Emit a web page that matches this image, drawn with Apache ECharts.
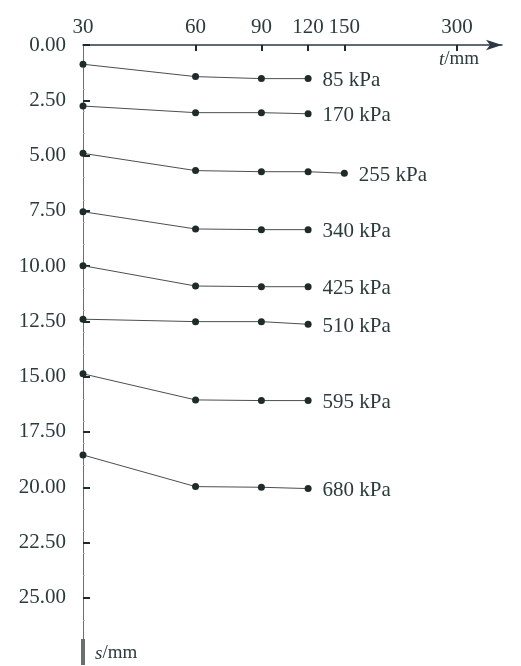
<!DOCTYPE html>
<html>
<head>
<meta charset="utf-8">
<script src="https://cdn.jsdelivr.net/npm/echarts@6/dist/echarts.min.js"></script>
<style>
  html, body { margin: 0; padding: 0; background: #ffffff; }
  #chart { width: 521px; height: 666px; }
</style>
</head>
<body>
<div id="chart"></div>
<script>
// Time steps t (mm) on a log scale, settlement s (mm) for each load stage
const tValues = [30, 60, 90, 120];
const tValuesLong = [30, 60, 90, 120, 150];
const loads = ['85 kPa', '170 kPa', '255 kPa', '340 kPa', '425 kPa', '510 kPa', '595 kPa', '680 kPa'];
const s85  = [0.87, 1.43, 1.52, 1.52];
const s170 = [2.76, 3.06, 3.06, 3.11];
const s255 = [4.90, 5.68, 5.73, 5.73, 5.80];
const s340 = [7.54, 8.32, 8.35, 8.35];
const s425 = [9.98, 10.90, 10.93, 10.93];
const s510 = [12.40, 12.51, 12.51, 12.63];
const s595 = [14.87, 16.05, 16.08, 16.08];
const s680 = [18.54, 19.97, 20.00, 20.06];
const settlements = [s85, s170, s255, s340, s425, s510, s595, s680];

const tTickLabels = [30, 60, 90, 120, 150, 300];
const tTickMarks = [60, 90, 120, 150, 300];
const sTickLabels = [0, 2.5, 5, 7.5, 10, 12.5, 15, 17.5, 20, 22.5, 25];

const FONT = "'Liberation Serif', 'DejaVu Serif', serif";
const TEXT = '#2b3a3a';
const INK = '#1f2b2b';
const FS = 21;

const series = settlements.map((vals, i) => {
  const ts = vals.length === 5 ? tValuesLong : tValues;
  return {
    name: loads[i],
    type: 'line',
    symbol: 'circle',
    symbolSize: 7,
    itemStyle: { color: INK },
    lineStyle: { color: '#4a4f4f', width: 1 },
    label: {
      show: false,
      position: 'right',
      distance: 11,
      offset: [0, 2],
      color: TEXT,
      fontFamily: FONT,
      fontSize: FS,
      formatter: () => loads[i]
    },
    data: vals.map((v, j) => j === vals.length - 1
      ? { value: [ts[j], v], label: { show: true } }
      : [ts[j], v]),
    z: 3
  };
});

const chart = echarts.init(document.getElementById('chart'));
chart.setOption({
  backgroundColor: '#ffffff',
  animation: false,
  grid: { left: 83, right: 19, top: 45, bottom: 14, containLabel: false },
  xAxis: {
    type: 'log',
    logBase: 10,
    position: 'top',
    min: 30,
    max: 396,
    splitLine: { show: false },
    axisLine: {
      show: true,
      lineStyle: { color: '#2c3845', width: 1.5 },
      symbol: ['none', 'arrow'],
      symbolSize: [8, 16]
    },
    axisTick: {
      show: true,
      inside: true,
      length: 6,
      lineStyle: { color: INK, width: 2 },
      customValues: tTickMarks
    },
    axisLabel: {
      color: TEXT,
      fontFamily: FONT,
      fontSize: FS,
      margin: 7,
      customValues: tTickLabels,
      formatter: v => String(Math.round(v))
    }
  },
  yAxis: {
    type: 'value',
    inverse: true,
    min: 0,
    max: 27.45,
    splitLine: { show: false },
    axisLine: {
      show: true,
      onZero: false,
      lineStyle: { color: '#6a7070', width: 1 },
      symbol: ['rect', 'none'],
      symbolSize: [4, 26]
    },
    axisTick: {
      show: true,
      inside: true,
      length: 7,
      lineStyle: { color: INK, width: 2 },
      customValues: sTickLabels
    },
    minorTick: {
      show: true,
      splitNumber: 5,
      length: 2,
      lineStyle: { color: '#b0b5b5', width: 1 }
    },
    axisLabel: {
      color: TEXT,
      fontFamily: FONT,
      fontSize: FS,
      margin: 17,
      customValues: sTickLabels,
      formatter: v => v.toFixed(2)
    }
  },
  graphic: [
    {
      type: 'text',
      left: 439,
      top: 50,
      style: {
        text: '{i|t}{n|/mm}',
        rich: {
          i: { fontFamily: FONT, fontStyle: 'italic', fontSize: 19, fill: TEXT },
          n: { fontFamily: FONT, fontSize: 19, fill: TEXT }
        }
      }
    },
    {
      type: 'text',
      left: 95,
      top: 644,
      style: {
        text: '{i|s}{n|/mm}',
        rich: {
          i: { fontFamily: FONT, fontStyle: 'italic', fontSize: 19, fill: TEXT },
          n: { fontFamily: FONT, fontSize: 19, fill: TEXT }
        }
      }
    }
  ],
  series: series
});
</script>
</body>
</html>
